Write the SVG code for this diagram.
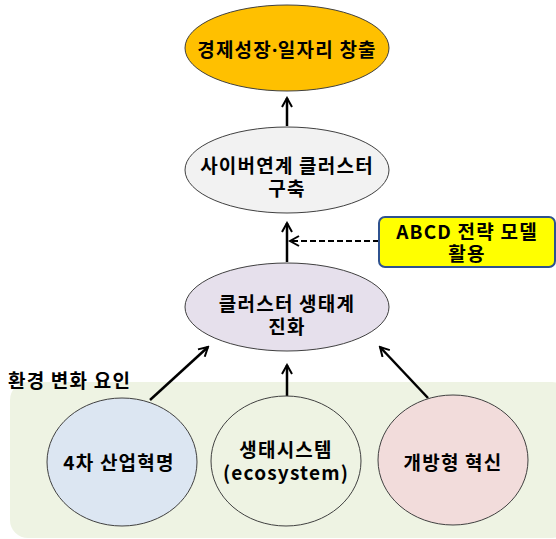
<svg xmlns="http://www.w3.org/2000/svg" width="556" height="539" viewBox="0 0 556 539">
  <defs>
    <marker id="openArrow" viewBox="0 0 12 12" refX="10" refY="6" markerWidth="12" markerHeight="12" markerUnits="userSpaceOnUse" orient="auto">
      <path d="M1,1 L10,6 L1,11" fill="none" stroke="#000" stroke-width="2"/>
    </marker>
  </defs>
  <style>
    text { font-family: "Noto Sans CJK KR", "Noto Sans", sans-serif; font-weight: bold; font-size: 19px; fill: #000; text-anchor: middle; letter-spacing: 1.2px; }
    .dot { font-family: "Noto Sans", sans-serif; letter-spacing: 0.5px; }
    .node { stroke: #404040; stroke-width: 1; }
    .conn { stroke: #000; stroke-width: 2.5; fill: none; marker-end: url(#openArrow); }
    .dash { stroke-dasharray: 6 3; stroke-width: 2; }
  </style>

  <rect width="556" height="539" fill="#fff"/>

  <!-- environment factor band -->
  <g id="env">
    <rect x="10" y="382" width="560" height="156" rx="18" fill="#EEF3E3"/>
    <text x="8" y="388" style="text-anchor:start">환경 변화 요인</text>
  </g>

  <!-- connectors -->
  <g id="connectors">
    <line class="conn" x1="287" y1="126" x2="287" y2="98"/>
    <line class="conn" x1="287" y1="262" x2="287" y2="223"/>
    <line class="conn dash" x1="379" y1="241" x2="290" y2="241"/>
    <line class="conn" x1="150" y1="400" x2="208" y2="347"/>
    <line class="conn" x1="287" y1="396" x2="287" y2="365"/>
    <line class="conn" x1="428" y1="398" x2="380" y2="347"/>
  </g>

  <g id="growth">
    <ellipse class="node" cx="287" cy="48" rx="102" ry="43" fill="#FFC000"/>
    <text x="287" y="57">경제성장<tspan class="dot">·</tspan>일자리 창출</text>
  </g>

  <g id="cyber">
    <ellipse class="node" cx="287" cy="170" rx="102" ry="43" fill="#F2F2F2"/>
    <text x="287" y="173">사이버연계 클러스터<tspan x="287" dy="23">구축</tspan></text>
  </g>

  <g id="abcd">
    <rect x="379" y="217" width="176" height="50" rx="6" fill="#FFFF00" stroke="#2F528F" stroke-width="2"/>
    <text x="467" y="239">ABCD 전략 모델<tspan x="467" dy="22">활용</tspan></text>
  </g>

  <g id="ecosystem-evolution">
    <ellipse class="node" cx="287" cy="307" rx="102" ry="44" fill="#E6E0EC"/>
    <text x="287" y="311">클러스터 생태계<tspan x="287" dy="23">진화</tspan></text>
  </g>

  <g id="industry4">
    <ellipse class="node" cx="122" cy="462" rx="75" ry="64" fill="#DCE6F2"/>
    <text x="119" y="470">4차 산업혁명</text>
  </g>

  <g id="ecosystem">
    <ellipse class="node" cx="286" cy="461" rx="75" ry="65" fill="#EEF3E3"/>
    <text x="286" y="457">생태시스템<tspan x="286" dy="23">(ecosystem)</tspan></text>
  </g>

  <g id="open-innovation">
    <ellipse class="node" cx="453" cy="460" rx="75" ry="65" fill="#F2DCDB"/>
    <text x="453" y="470">개방형 혁신</text>
  </g>
</svg>
